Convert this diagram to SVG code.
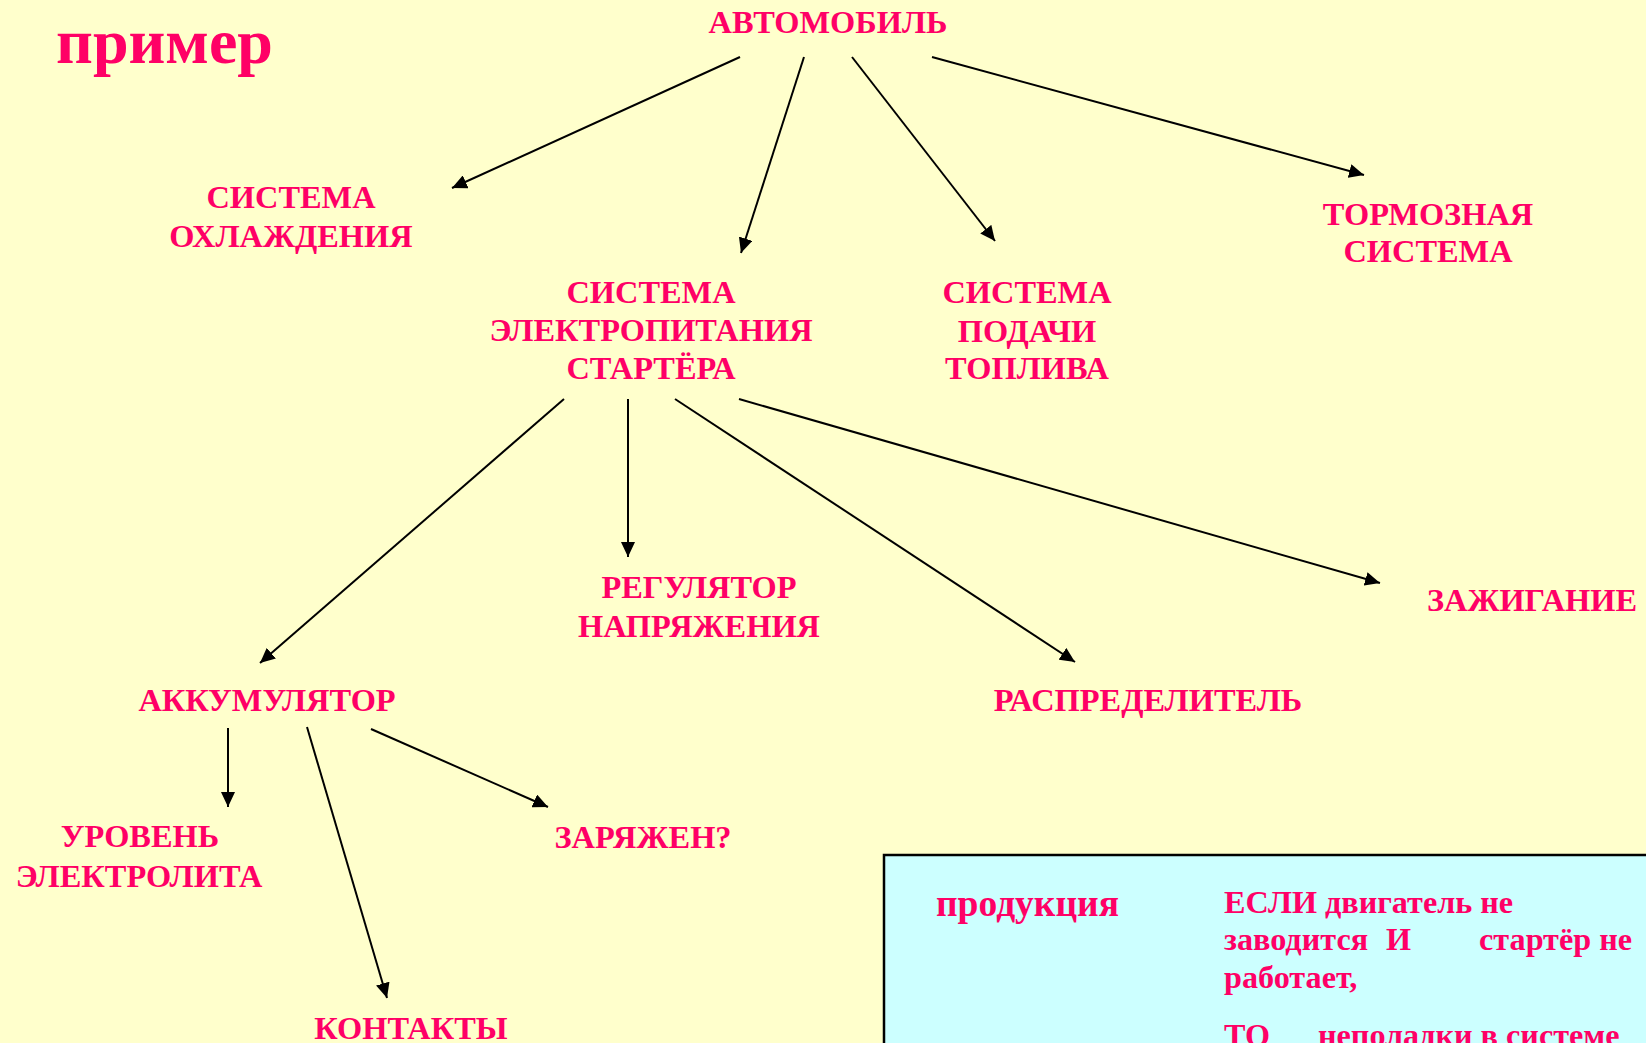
<svg xmlns="http://www.w3.org/2000/svg" width="1646" height="1043" viewBox="0 0 1646 1043">
<defs>
<marker id="ah" markerUnits="userSpaceOnUse" markerWidth="16" markerHeight="14" refX="15" refY="7" orient="auto">
<path d="M0,0 L15,7 L0,14 z" fill="#000"/>
</marker>
<style>
text{font-family:"Liberation Serif","Times New Roman",serif;font-weight:bold;fill:#FF0066}
.n{font-size:32.4px;text-anchor:middle}
.b{font-size:32.2px}
.c line{stroke:#000;stroke-width:2;marker-end:url(#ah)}
</style>
</defs>
<rect x="0" y="0" width="1646" height="1043" fill="#FFFFCC"/>
<g id="title"><text x="56" y="63" style="font-size:64px">пример</text></g>
<g id="n_avto"><text class="n" x="828" y="33">АВТОМОБИЛЬ</text></g>
<g id="n_ohl"><text class="n" x="291" y="208">СИСТЕМА</text><text class="n" x="291" y="247">ОХЛАЖДЕНИЯ</text></g>
<g id="n_elec"><text class="n" x="651" y="303">СИСТЕМА</text><text class="n" x="651" y="341">ЭЛЕКТРОПИТАНИЯ</text><text class="n" x="651" y="379">СТАРТЁРА</text></g>
<g id="n_topl"><text class="n" x="1027" y="303">СИСТЕМА</text><text class="n" x="1027" y="342">ПОДАЧИ</text><text class="n" x="1027" y="379">ТОПЛИВА</text></g>
<g id="n_torm"><text class="n" x="1428" y="225">ТОРМОЗНАЯ</text><text class="n" x="1428" y="262">СИСТЕМА</text></g>
<g id="n_reg"><text class="n" x="699" y="598">РЕГУЛЯТОР</text><text class="n" x="699" y="637">НАПРЯЖЕНИЯ</text></g>
<g id="n_zaj"><text class="n" x="1532" y="611">ЗАЖИГАНИЕ</text></g>
<g id="n_akk"><text class="n" x="267" y="711">АККУМУЛЯТОР</text></g>
<g id="n_rasp"><text class="n" x="1148" y="711">РАСПРЕДЕЛИТЕЛЬ</text></g>
<g id="n_urov"><text class="n" x="140" y="847">УРОВЕНЬ</text><text class="n" x="139" y="887">ЭЛЕКТРОЛИТА</text></g>
<g id="n_zar"><text class="n" x="643" y="848">ЗАРЯЖЕН?</text></g>
<g id="n_kont"><text class="n" x="411" y="1039">КОНТАКТЫ</text></g>
<g id="box">
<rect x="884" y="855" width="780" height="210" fill="#CCFFFF" stroke="#000" stroke-width="2.5"/>
<text x="936" y="916" style="font-size:37.5px">продукция</text>
<text class="b" x="1224" y="913">ЕСЛИ двигатель не</text>
<text class="b" x="1224" y="950">заводится</text>
<text class="b" x="1386" y="950">И</text>
<text class="b" x="1632" y="950" text-anchor="end">стартёр не</text>
<text class="b" x="1224" y="988">работает,</text>
<text class="b" x="1224" y="1046">ТО</text>
<text class="b" x="1318" y="1046">неполадки в системе</text>
</g>
<g id="connectors" class="c">
<line x1="740" y1="57" x2="452" y2="188"/>
<line x1="804" y1="57" x2="741" y2="253"/>
<line x1="852" y1="57" x2="995" y2="241"/>
<line x1="932" y1="57" x2="1364" y2="175"/>
<line x1="564" y1="399" x2="260" y2="663"/>
<line x1="628" y1="399" x2="628" y2="557"/>
<line x1="675" y1="399" x2="1075" y2="662"/>
<line x1="739" y1="399" x2="1380" y2="583"/>
<line x1="228" y1="728" x2="228" y2="807"/>
<line x1="307" y1="727" x2="387" y2="998"/>
<line x1="371" y1="729" x2="548" y2="807"/>
</g>
</svg>
